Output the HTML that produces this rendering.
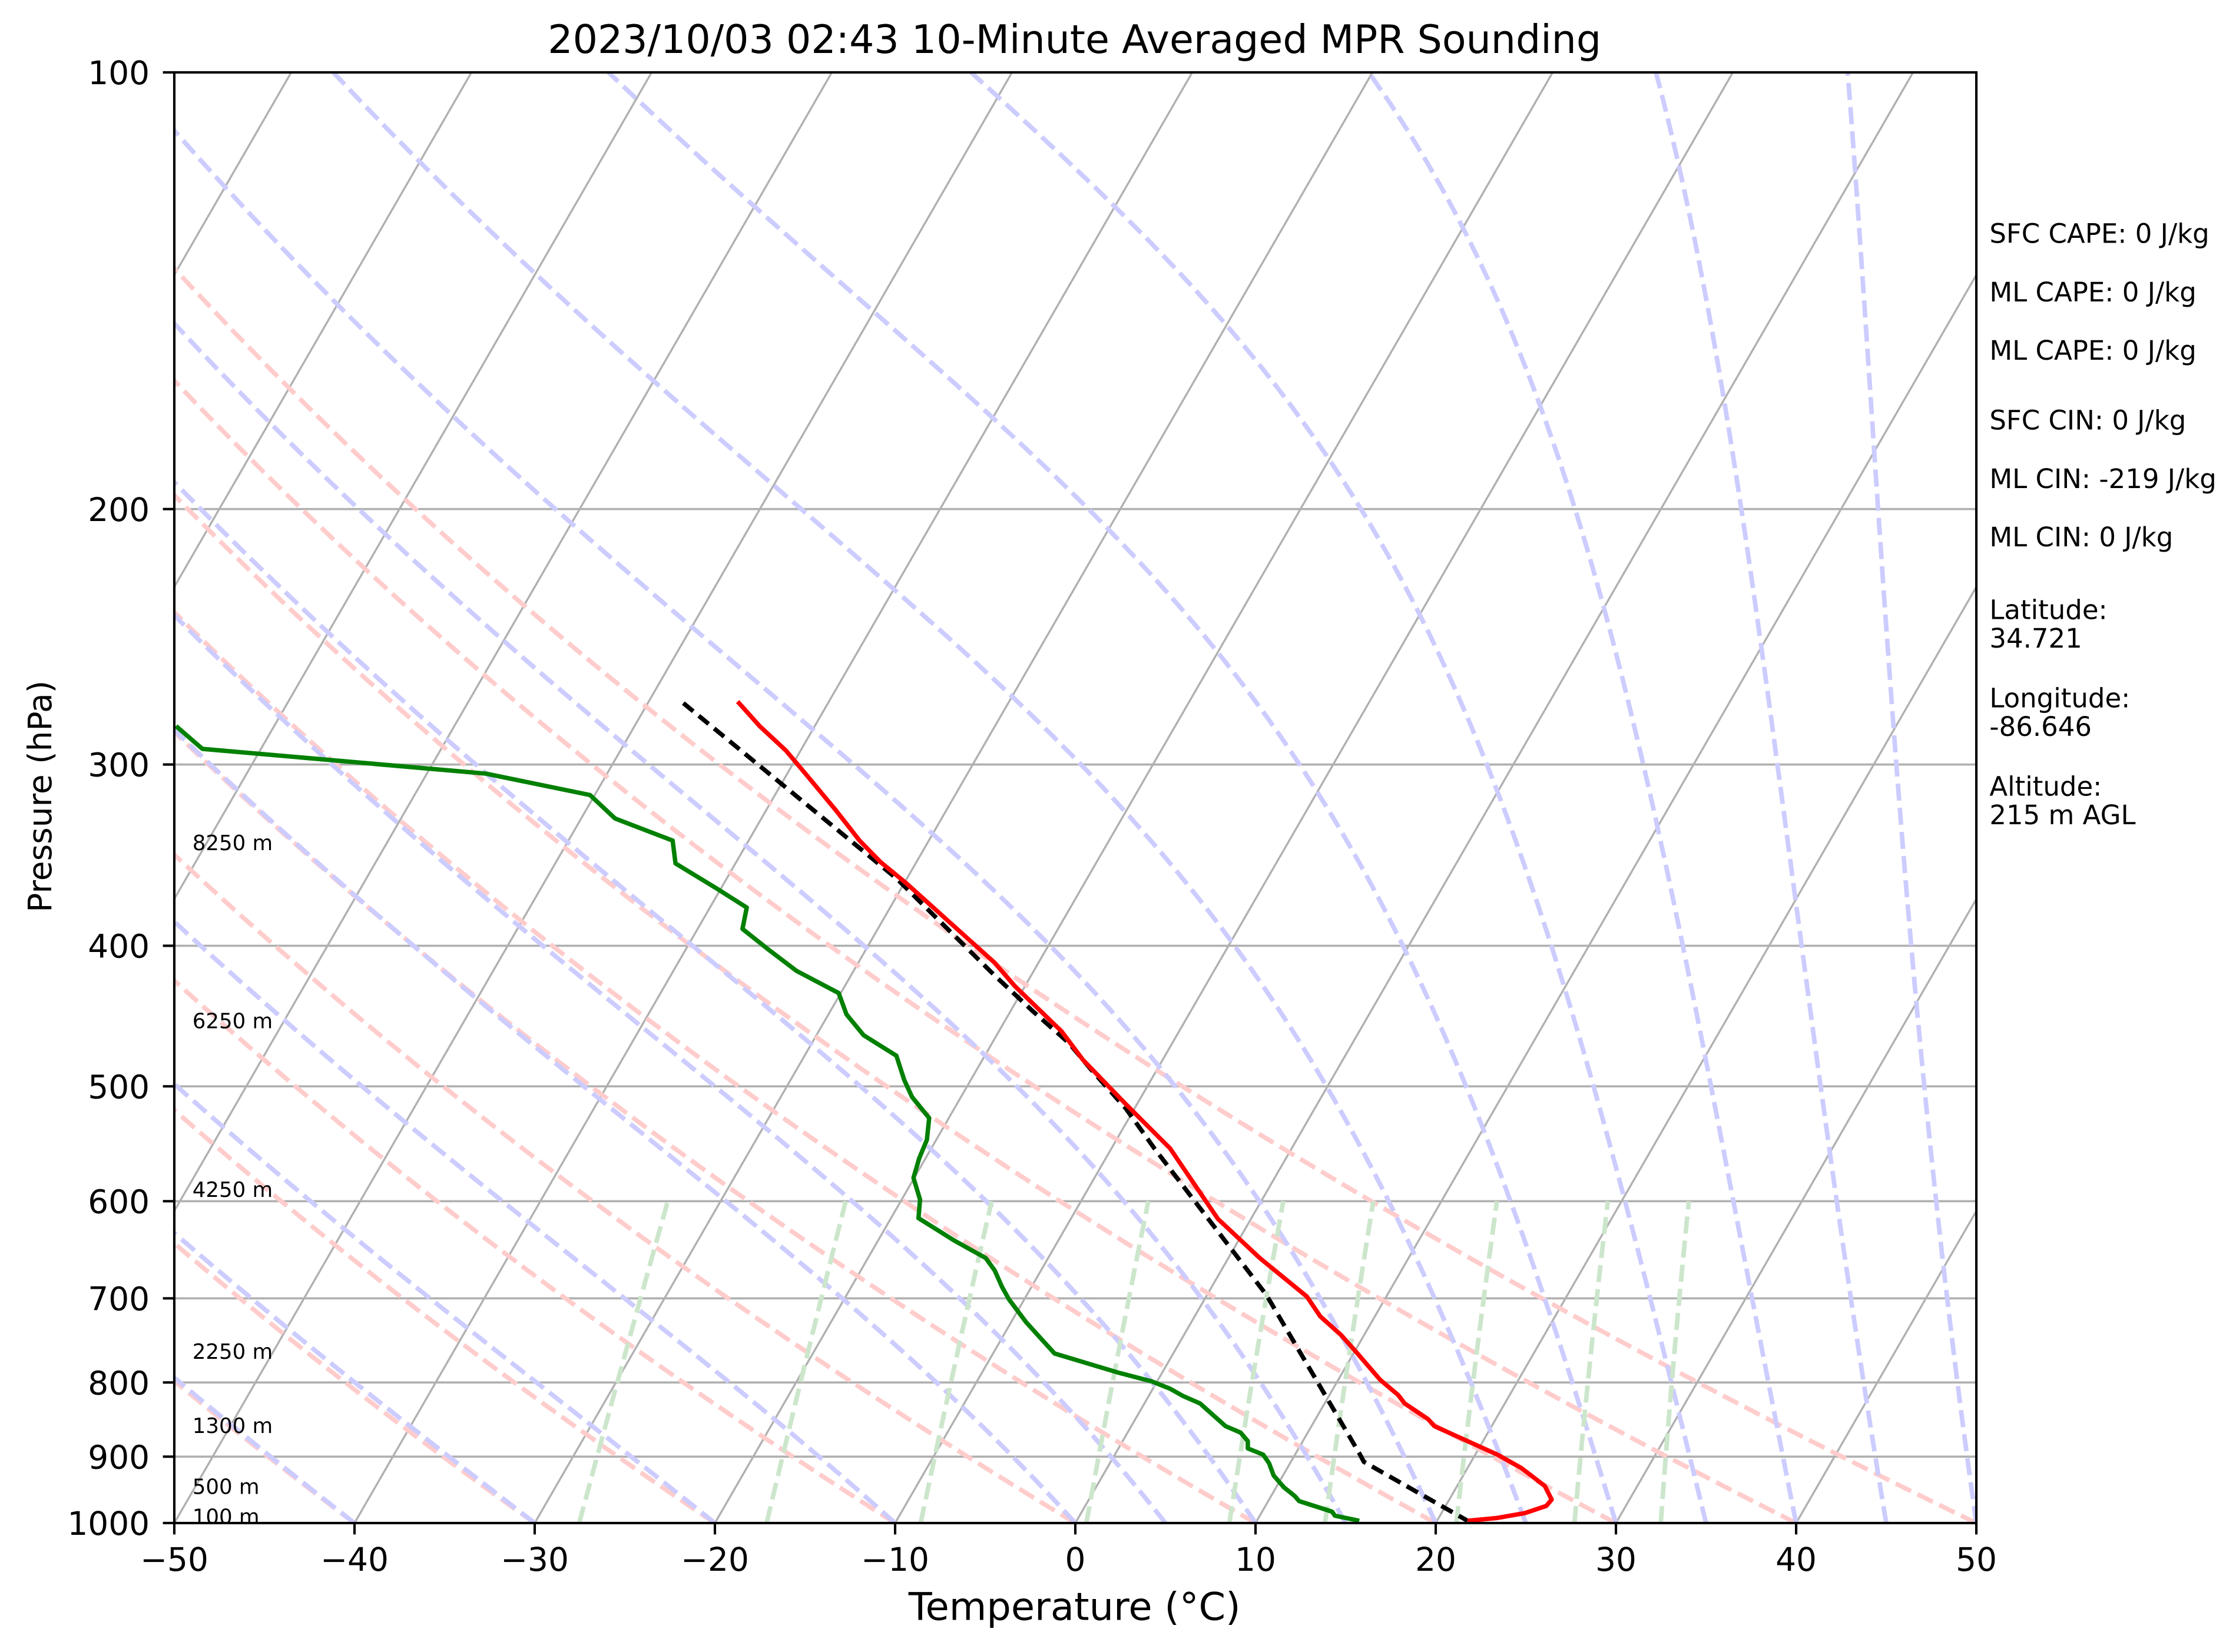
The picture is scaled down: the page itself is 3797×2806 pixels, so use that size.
<!DOCTYPE html>
<html><head><meta charset="utf-8"><style>
html,body{margin:0;padding:0;background:#fff;}
svg{display:block;}
text{font-family:"DejaVu Sans","Liberation Sans",sans-serif;fill:#000;}
</style></head><body>
<svg id="s" xmlns="http://www.w3.org/2000/svg" width="3797" height="2806" viewBox="0 0 1569 1159.5" preserveAspectRatio="none">
<defs><clipPath id="cp"><rect x="122.3" y="50.8" width="1264.5" height="1018.2"/></clipPath></defs>
<rect x="0" y="0" width="1569" height="1159.5" fill="#fff"/>
<g id="bg" clip-path="url(#cp)"></g>
<g id="data" clip-path="url(#cp)">
<polyline fill="none" stroke="#008000" stroke-width="3.1" stroke-linejoin="round" points="123.5,509.6 142,525.6 341,543 414,558 431.6,574.5 472,590 474,606 503.5,624 524,637 521,652 538.6,666 559,681.5 588.5,697 594,712 606,726.6 629,741 634.5,758 640,770 652,784.7 650.4,800 645,813 641,826.7 645.6,842 644.5,855 669.4,870.6 691.7,883 698,891.7 703,903 708,912 720,928 740,950 785,963.5 808,969.5 821,974.7 830.5,980 842,985 860,1001 870.5,1005.5 875.6,1011.5 875.6,1016.6 886.4,1021 890.5,1027 893.7,1035.6 901,1044 908.5,1050 911.6,1053.6 934.7,1061 936.7,1063.8 953.8,1067.4"/>
<polyline fill="none" stroke="#000" stroke-width="3.1" stroke-dasharray="9,5" points="479.5,493.5 629,616.5 698,684.7 725,710 750,732 765,750 790,778 810,806 888.5,908.7 953.8,1020 957,1026 1029.8,1067.4"/>
<polyline fill="none" stroke="#ff0000" stroke-width="3.1" stroke-linejoin="round" points="517.6,492.4 533,509.6 551.5,526.8 566,544 586.6,568.8 603,589.8 617.8,605 636,620 698,675.8 712,692 745,724 760,744 790,775 821,806 854.6,855.5 884,883 917,910 926.5,924 941,937 951.7,949 968.6,968.6 981,979 985.6,985 1002,996 1006.6,1001 1050.8,1021 1067.7,1030.5 1084,1043 1088.8,1052.5 1085,1057 1070,1062 1050,1065.5 1029.8,1067.4"/>
</g>
<g id="fg"></g>
<text x="754" y="37.2" font-size="27.5" text-anchor="middle">2023/10/03 02:43 10-Minute Averaged MPR Sounding</text>
<text x="754" y="1137" font-size="27" text-anchor="middle">Temperature (°C)</text>
<text transform="translate(36,559) rotate(-90)" font-size="22.7" text-anchor="middle">Pressure (hPa)</text>
<g font-size="14.7">
<text x="135" y="596.7">8250 m</text>
<text x="135" y="721.8">6250 m</text>
<text x="135" y="840">4250 m</text>
<text x="135" y="953.7">2250 m</text>
<text x="135" y="1005.8">1300 m</text>
<text x="135" y="1048.6">500 m</text>
<text x="135" y="1069.6">100 m</text>
</g>
<g font-size="18.6">
<text x="1396" y="170.5">SFC CAPE: 0 J/kg</text>
<text x="1396" y="211.5">ML CAPE: 0 J/kg</text>
<text x="1396" y="252.5">ML CAPE: 0 J/kg</text>
<text x="1396" y="301.5">SFC CIN: 0 J/kg</text>
<text x="1396" y="342.5">ML CIN: -219 J/kg</text>
<text x="1396" y="383.5">ML CIN: 0 J/kg</text>
<text x="1396" y="434.5">Latitude:</text>
<text x="1396" y="454.5">34.721</text>
<text x="1396" y="496.5">Longitude:</text>
<text x="1396" y="516.5">-86.646</text>
<text x="1396" y="558.5">Altitude:</text>
<text x="1396" y="578.5">215 m AGL</text>
</g>
</svg>
<script>
(function(){
var NS="http://www.w3.org/2000/svg";
var L=122.3,R=1386.8,T=50.8,B=1069,H=B-T,K=(R-L)/100,SK=Math.tan(Math.PI/6);
function Y(p){return B-H*Math.log10(1000/p);}
function X(t,p){return L+(t+50)*K+SK*(B-Y(p));}
var bg=document.getElementById('bg'),fg=document.getElementById('fg'),s=document.getElementById('s');
function el(par,tag,a){var e=document.createElementNS(NS,tag);for(var k in a)e.setAttribute(k,a[k]);par.appendChild(e);return e;}
function pl(par,pts,st,w,da){el(par,'polyline',{points:pts.map(function(q){return q[0].toFixed(2)+','+q[1].toFixed(2);}).join(' '),fill:'none',stroke:st,'stroke-width':w,'stroke-dasharray':da||'none'});}
for(var p=100;p<=1000;p+=100){pl(bg,[[L,Y(p)],[R,Y(p)]],'#b0b0b0',1.5);}
for(var t=-200;t<=60;t+=10){pl(bg,[[X(t,1000),B],[X(t,100),T]],'#b0b0b0',1.4);}
for(var th=-50;th<=50;th+=10){var pts=[];for(var p=1000;p>=100;p-=10){var tk=(th+273.15)*Math.pow(p/1000,0.2857)-273.15;pts.push([X(tk,p),Y(p)]);}pl(bg,pts,'#ffcccc',3.2,'12,5');}
function es(tk){var tc=tk-273.15;return 6.112*Math.exp(17.67*tc/(tc+243.5));}
function f(p,tk){var e=es(tk),rs=0.622*e/(p-e);return (287.04*tk+2.501e6*rs)/(1005.7+2.501e6*2.501e6*rs*0.622/(287.04*tk*tk))/p;}
var mt=[-50,-40,-30,-20,-10,0,5,10,15,20,25,30,35,40,45,50];
mt.forEach(function(t0){var tk=t0+273.15,p=1000,h=-5,pts=[[X(t0,p),Y(p)]];
while(p>100.01){var k1=f(p,tk),k2=f(p+h/2,tk+h/2*k1),k3=f(p+h/2,tk+h/2*k2),k4=f(p+h,tk+h*k3);tk+=h/6*(k1+2*k2+2*k3+k4);p+=h;pts.push([X(tk-273.15,p),Y(p)]);}
pl(bg,pts,'#ccccff',3.2,'12,5');});
[0.0004,0.001,0.002,0.004,0.007,0.01,0.016,0.024,0.032].forEach(function(w){var pts=[];for(var p=1000;p>=600;p-=20){var e=p*w/(0.622+w),l=Math.log(e/6.112),td=243.5*l/(17.67-l);pts.push([X(td,p),Y(p)]);}pl(bg,pts,'#cce6cc',3.2,'12,5');});
el(fg,'rect',{x:L,y:T,width:R-L,height:H,fill:'none',stroke:'#000','stroke-width':1.7});
for(var t=-50;t<=50;t+=10){var x=L+(t+50)*K;pl(fg,[[x,B],[x,B+8]],'#000',1.7);var tx=el(s,'text',{x:x,y:1102.5,'font-size':22.7,'text-anchor':'middle'});tx.textContent=(t<0?'\u2212'+(-t):''+t);}
for(var p=100;p<=1000;p+=100){var y=Y(p);pl(fg,[[L-8,y],[L,y]],'#000',1.7);var tx=el(s,'text',{x:105,y:y+8.3,'font-size':22.7,'text-anchor':'end'});tx.textContent=''+p;}
})();
</script>
</body></html>
